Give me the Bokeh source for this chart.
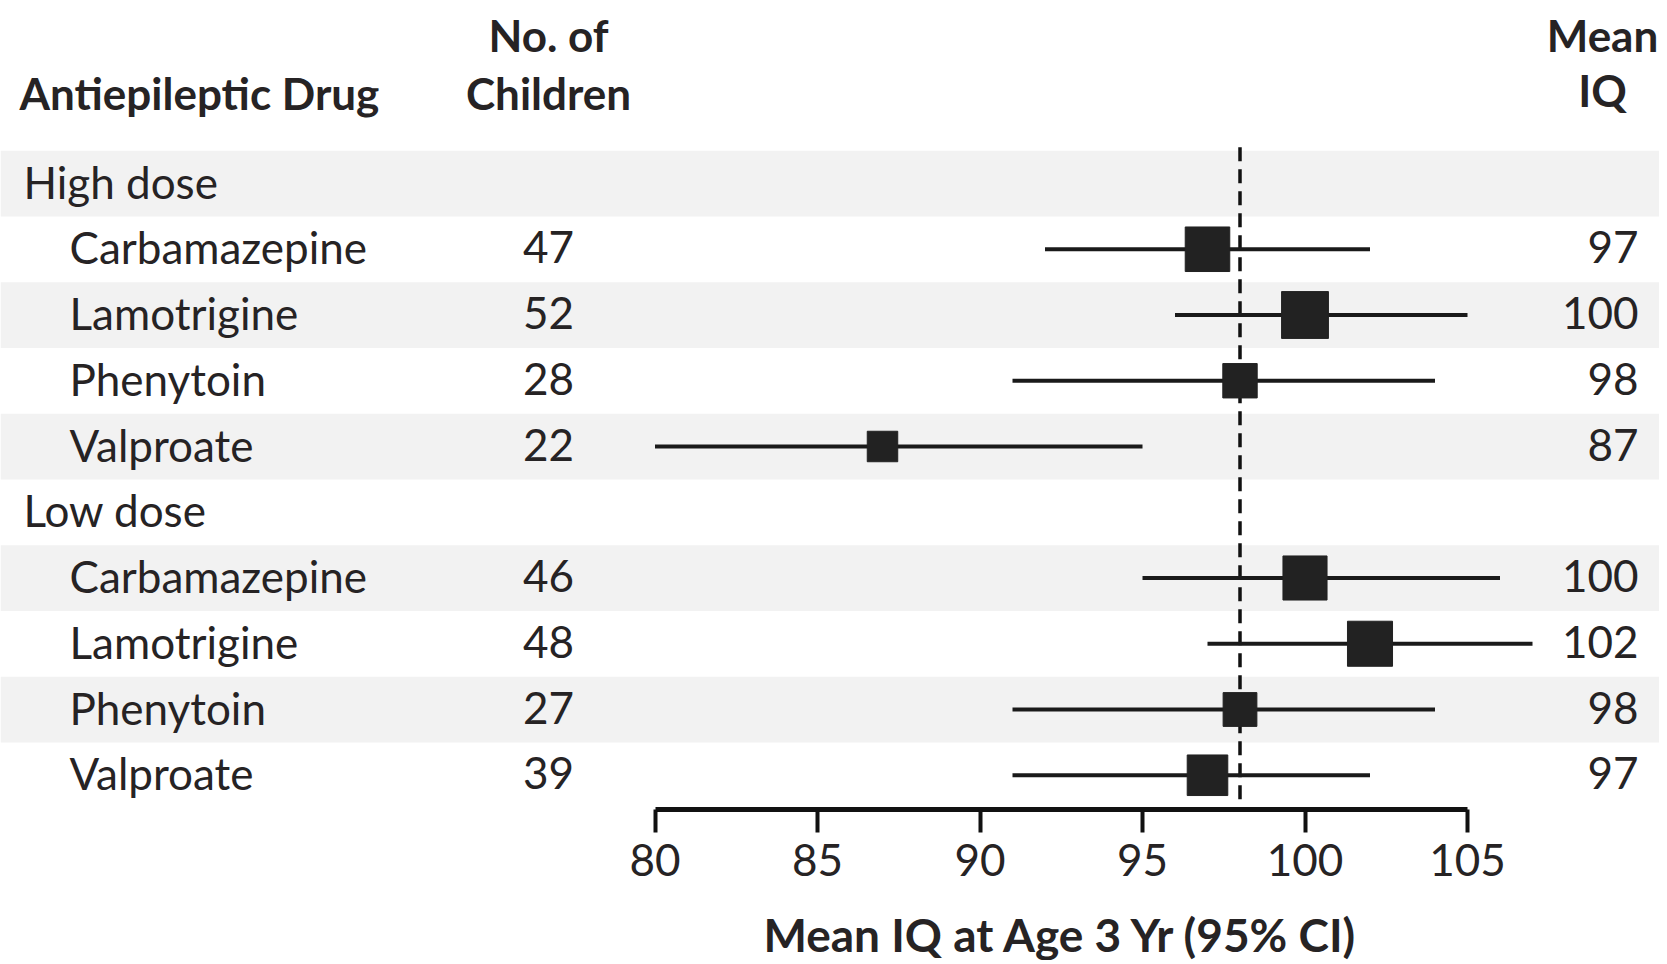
import numpy as np
from bokeh.plotting import figure
from bokeh.models import ColumnDataSource, Range1d, FixedTicker, LinearAxis
from bokeh.core.properties import value
from bokeh.embed import file_html
from bokeh.resources import INLINE

# ---------------- data ----------------
groups = ["High dose", "Low dose"]
drugs = ["Carbamazepine", "Lamotrigine", "Phenytoin", "Valproate"]
n_high = [47, 52, 28, 22]
n_low = [46, 48, 27, 39]
mean_high = [97, 100, 98, 87]
mean_low = [100, 102, 98, 97]
lo_high = [92, 96, 91, 80]
hi_high = [102, 105, 104, 95]
lo_low = [95, 97, 91, 91]
hi_low = [106, 107, 104, 102]
reference_iq = 98
x_ticks = [80, 85, 90, 95, 100, 105]
header_drug = "Antiepileptic Drug"
header_n = ["No. of", "Children"]
header_iq = ["Mean", "IQ"]
x_label = "Mean IQ at Age 3 Yr (95% CI)"

# ---------------- layout ----------------
W, H = 1659, 960
AXIS_PX = 809
PX_PER_UNIT = 32.5
X80_PX = 654.5
ROW_H = 65.75
ROW0_PX = 183.0

x_start = 80 - X80_PX / PX_PER_UNIT
x_end = x_start + W / PX_PER_UNIT
y_top = -ROW0_PX / ROW_H
y_bottom = (H - ROW0_PX) / ROW_H
y_axis_loc = (AXIS_PX - ROW0_PX) / ROW_H


def px_x(px):
    return x_start + px / PX_PER_UNIT


def px_y(py):
    return (py - ROW0_PX) / ROW_H


INK = "#262324"
FONT = "Lato"
FS = "44px"
TXT = dict(text_font=value(FONT), text_font_size=FS, text_color=INK, text_baseline="middle")

# rows
group_rows, group_y = [], []
row_y, names, ns, means, los, his = [], [], [], [], [], []
series = [(n_high, mean_high, lo_high, hi_high), (n_low, mean_low, lo_low, hi_low)]
r = 0
for g, (nn, mm, ll, hh) in zip(groups, series):
    group_rows.append(g)
    group_y.append(r)
    r += 1
    for d, n_, m_, l_, h_ in zip(drugs, nn, mm, ll, hh):
        row_y.append(r)
        names.append(d)
        ns.append(n_)
        means.append(m_)
        los.append(l_)
        his.append(h_)
        r += 1
n_rows = r

src = ColumnDataSource(dict(
    y=row_y, name=names, n=[str(v) for v in ns], mean=means,
    mean_txt=[str(v) for v in means], lo=los, hi=his,
    size=[6.5 * np.sqrt(v) for v in ns],
))

p = figure(width=W, height=H, output_backend="svg", toolbar_location=None,
           x_range=Range1d(x_start, x_end), y_range=Range1d(y_bottom, y_top),
           min_border=0, y_axis_location=None, x_axis_location=None)
p.outline_line_color = None
p.grid.visible = False
p.background_fill_color = "white"
p.border_fill_color = "white"

# alternating bands
band_rows = [i for i in range(n_rows) if i % 2 == 0]
p.quad(left=x_start, right=x_end, top=[i - 0.5 for i in band_rows],
       bottom=[i + 0.5 for i in band_rows], fill_color="#f2f2f2", line_color=None)

# reference line
p.segment(x0=[reference_iq], y0=[-0.55], x1=[reference_iq], y1=[n_rows - 0.5],
          line_color="#111111", line_width=3.5, line_dash="14 8")

# CIs and squares
p.segment(x0="lo", y0="y", x1="hi", y1="y", source=src, line_color="#1a1a1a", line_width=4)
p.scatter(x="mean", y="y", size="size", marker="square", source=src,
          fill_color="#222222", line_color="#222222")

# text columns
p.text(x=px_x(23), y=group_y, text=group_rows, text_align="left", y_offset=-2, **TXT)
p.text(x=px_x(69), y="y", text="name", source=src, text_align="left", y_offset=-2, **TXT)
p.text(x=px_x(548), y="y", text="n", source=src, text_align="center", y_offset=-2, **TXT)
p.text(x=px_x(1638), y="y", text="mean_txt", source=src, text_align="right", y_offset=-2, **TXT)

# headers
p.text(x=px_x(19), y=px_y(92), text=[header_drug], text_font_style="bold",
       text_align="left", **TXT)
p.text(x=px_x(548), y=[px_y(34), px_y(92)], text=header_n, text_font_style="bold",
       text_align="center", **TXT)
p.text(x=px_x(1602), y=[px_y(34), px_y(89)], text=header_iq, text_font_style="bold",
       text_align="center", **TXT)

# x axis drawn inside the frame at a fixed location
ax = LinearAxis(fixed_location=y_axis_loc)
p.add_layout(ax, "below")
ax.bounds = (x_ticks[0], x_ticks[-1])
ax.ticker = FixedTicker(ticks=x_ticks)
ax.axis_line_width = 5
ax.axis_line_color = "#111111"
ax.major_tick_line_width = 4
ax.major_tick_line_color = "#111111"
ax.major_tick_in = 0
ax.major_tick_out = 23
ax.minor_tick_line_color = None
ax.major_label_text_font = FONT
ax.major_label_text_font_size = FS
ax.major_label_text_color = INK
ax.major_label_standoff = 11
ax.axis_label = x_label
ax.axis_label_text_font = FONT
ax.axis_label_text_font_size = "46px"
ax.axis_label_text_font_style = "bold"
ax.axis_label_text_color = INK
ax.axis_label_standoff = 28

open("out.html", "w").write(file_html(p, INLINE))
